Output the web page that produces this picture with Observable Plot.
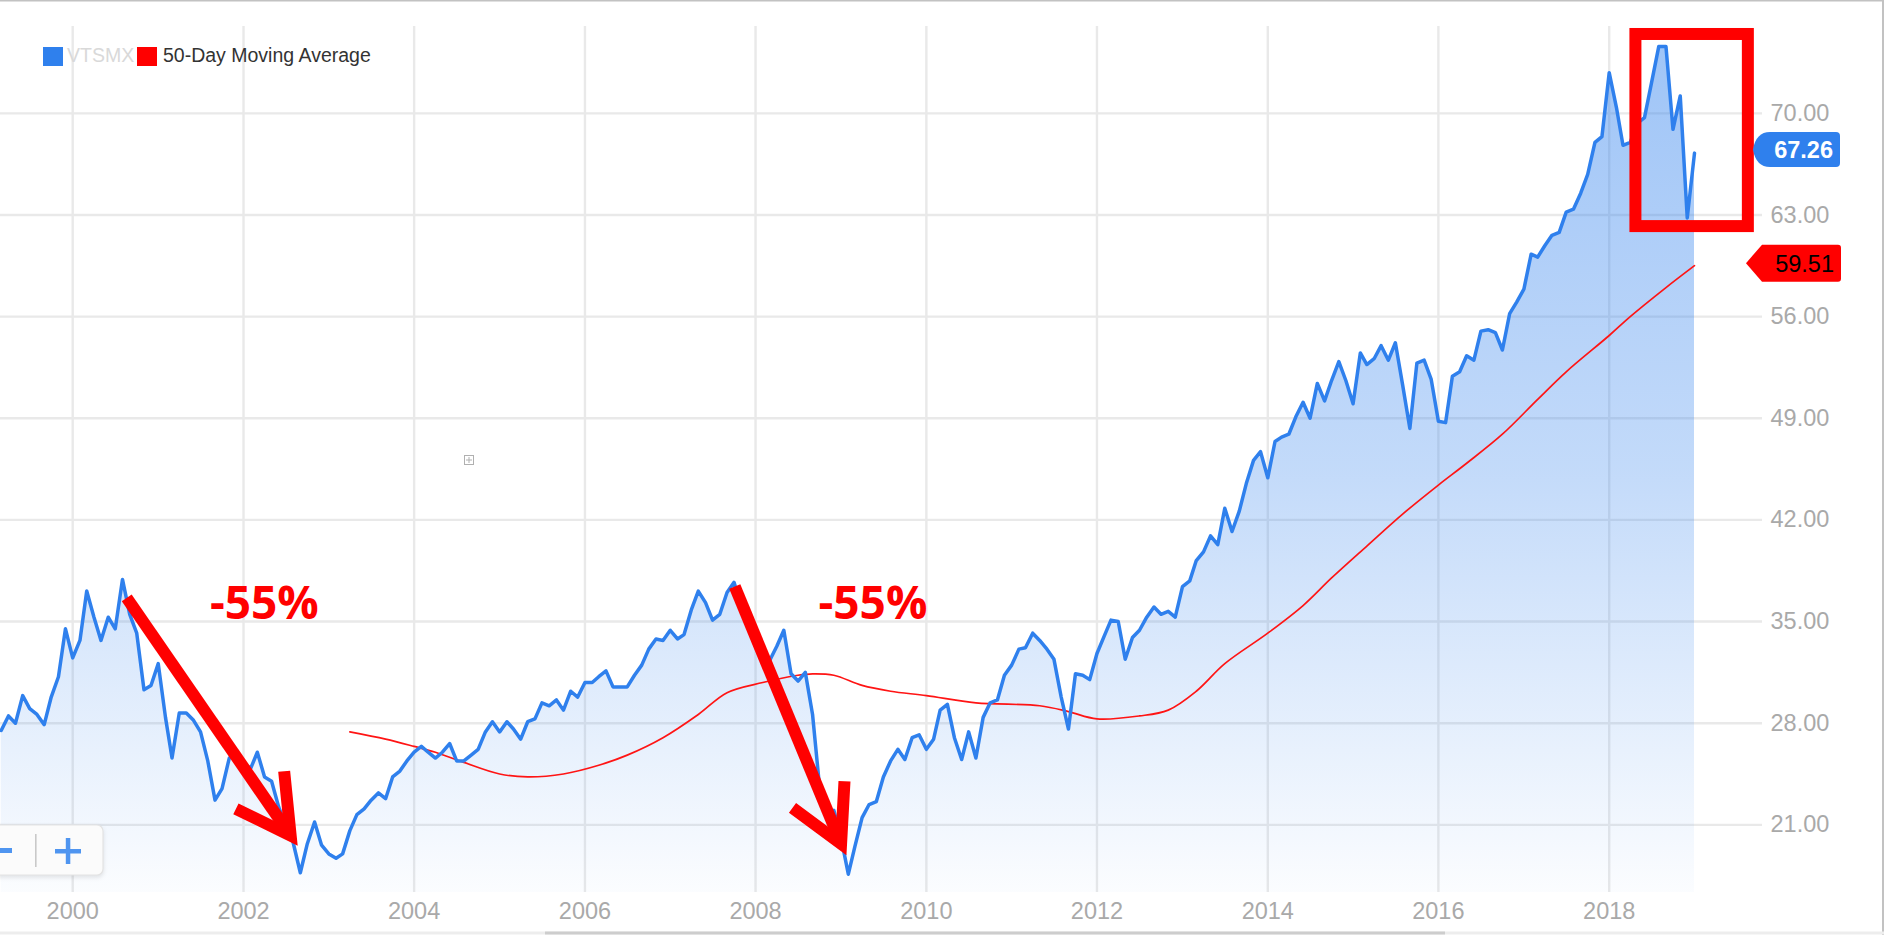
<!DOCTYPE html>
<html>
<head>
<meta charset="utf-8">
<script src="https://cdn.jsdelivr.net/npm/d3@7"></script>
<script src="https://cdn.jsdelivr.net/npm/@observablehq/plot@0.6"></script>
<style>
  html, body { margin: 0; padding: 0; background: #ffffff; }
  #wrap { position: relative; width: 1884px; height: 935px; overflow: hidden; }
</style>
</head>
<body>
<div id="wrap"></div>
<script>
// ---------- DATA ----------
// monthly closing values, first month = March 1999
const firstYear = 1999, firstMonth = 2;
const price = [
  27.5, 28.5, 28.0, 29.9, 29.0, 28.6, 27.9, 29.8, 31.2, 34.5,
  32.5, 33.7, 37.1, 35.3, 33.7, 35.3, 34.5, 37.9, 35.5, 34.2,
  30.3, 30.6, 32.1, 28.4, 25.6, 28.7, 28.7, 28.2, 27.4, 25.4,
  22.7, 23.5, 25.6, 26.0, 25.2, 24.9, 26.0, 24.3, 24.0, 22.2,
  21.0, 19.8, 17.7, 19.7, 21.2, 19.6, 19.0, 18.7, 19.0, 20.6,
  21.7, 22.1, 22.7, 23.2, 22.8, 24.3, 24.7, 25.4, 26.0, 26.4,
  26.0, 25.6, 26.0, 26.6, 25.4, 25.4, 25.8, 26.2, 27.4, 28.1,
  27.4, 28.1, 27.6, 26.9, 28.1, 28.3, 29.4, 29.2, 29.6, 28.9,
  30.2, 29.8, 30.8, 30.8, 31.2, 31.6, 30.5, 30.5, 30.5, 31.3,
  32.0, 33.1, 33.8, 33.7, 34.4, 33.8, 34.1, 35.8, 37.1, 36.3,
  35.1, 35.5, 37.0, 37.7, 36.0, 35.4, 33.3, 32.6, 32.3, 33.3,
  34.4, 31.4, 30.9, 31.5, 28.6, 23.6, 21.6, 22.0, 20.1, 17.6,
  19.5, 21.5, 22.4, 22.6, 24.3, 25.4, 26.2, 25.5, 27.0, 27.2,
  26.2, 26.9, 28.9, 29.3, 27.0, 25.5, 27.4, 25.6, 28.4, 29.4,
  29.6, 31.3, 32.0, 33.1, 33.2, 34.2, 33.7, 33.1, 32.4, 29.8,
  27.6, 31.4, 31.3, 31.0, 32.8, 34.0, 35.1, 35.0, 32.4, 33.9,
  34.4, 35.3, 36.0, 35.5, 35.7, 35.3, 37.4, 37.8, 39.2, 39.8,
  40.9, 40.3, 42.8, 41.2, 42.6, 44.5, 46.1, 46.7, 44.9, 47.4,
  47.7, 47.9, 49.1, 50.1, 49.0, 51.4, 50.2, 51.6, 52.9, 51.6,
  50.0, 53.5, 52.7, 53.1, 54.0, 53.0, 54.2, 51.3, 48.3, 52.8,
  53.0, 51.7, 48.8, 48.7, 51.9, 52.2, 53.3, 53.0, 55.0, 55.1,
  54.9, 53.7, 56.2, 57.0, 57.9, 60.3, 60.1, 60.9, 61.6, 61.8,
  63.2, 63.4, 64.5, 65.8, 68.0, 68.4, 72.8, 70.4, 67.8, 68.0,
  69.3, 69.7, 72.1, 74.6, 74.6, 68.9, 71.2, 62.8, 67.26
];
// moving average read at selected months (month index from March 1999)
const maMonth = [49, 54, 58, 61, 65, 70, 74, 79, 84, 88, 93, 98, 102, 107, 112, 114, 117, 121, 125, 130,
                 137, 146, 150, 154, 160, 164, 168, 172, 178, 183, 187, 192, 197, 202, 206, 211, 216, 220, 226, 229, 234, 238];
const maValue = [27.4, 26.9, 26.4, 26.0, 25.3, 24.5, 24.3, 24.5, 25.1, 25.8, 27.0, 28.6, 30.1, 30.8, 31.3, 31.4, 31.3, 30.6, 30.2, 29.9,
                 29.4, 29.2, 28.8, 28.3, 28.5, 28.9, 30.2, 32.1, 34.2, 36.1, 38.0, 40.2, 42.4, 44.4, 45.9, 47.9, 50.3, 52.2, 54.7, 56.0, 58.0, 59.51];

const seriesNames = ["VTSMX", "50-Day Moving Average"];
const xTickYears = [2000, 2002, 2004, 2006, 2008, 2010, 2012, 2014, 2016, 2018];
const yTicks = [21, 28, 35, 42, 49, 56, 63, 70];
const yDomain = [16.34, 75.98];
const xDomainDates = [[1999, 1, 26], [2019, 9, 19]];
const lastPrice = 67.26;
const lastMA = 59.51;

// annotations (fractional year, value)
const dropLabels = [
  {label: "-55%", year: 2002.244, value: 36.2},
  {label: "-55%", year: 2009.373, value: 36.17}
];
const arrowShafts = [
  {y0: 2000.633, v0: 36.63, y1: 2002.552, v1: 20.26},
  {y0: 2007.756, v0: 37.41, y1: 2009.000, v1: 19.70}
];
const arrowHeads = [
  {id: 1, year: 2001.910, value: 22.10}, {id: 1, year: 2002.552, value: 20.26}, {id: 1, year: 2002.476, value: 24.69},
  {id: 2, year: 2008.433, value: 22.17}, {id: 2, year: 2009.000, value: 19.70}, {id: 2, year: 2009.040, value: 24.00}
];
const highlightBox = {yearStart: 2018.313, yearEnd: 2019.631, low: 62.2, high: 75.43};

// ---------- helpers ----------
const fy = (y) => {
  const base = Math.floor(y);
  return new Date(Date.UTC(base, 0, 1) + (y - base) * 365.25 * 864e5);
};
const priceData = price.map((v, i) => ({date: new Date(Date.UTC(firstYear, firstMonth + i, 1)), value: v}));
const maData = maMonth.map((m, k) => ({date: new Date(Date.UTC(firstYear, firstMonth + m, 1)), value: maValue[k]}));
const xTicks = xTickYears.map(y => new Date(Date.UTC(y, 0, 1)));
const xDomain = xDomainDates.map(d => new Date(Date.UTC(d[0], d[1], d[2])));

const BLUE = "#2f80ed";
const RED = "#ff0000";
const GRID = "#e9e9e9";
const AXIS = "#a9a9a9";

const gradient = () => {
  const defs = d3.create("svg:defs");
  const lg = defs.append("linearGradient").attr("id", "areaGrad")
    .attr("x1", 0).attr("y1", 0).attr("x2", 0).attr("y2", 1);
  lg.append("stop").attr("offset", "0%").attr("stop-color", BLUE).attr("stop-opacity", 0.46);
  lg.append("stop").attr("offset", "50%").attr("stop-color", BLUE).attr("stop-opacity", 0.29);
  lg.append("stop").attr("offset", "100%").attr("stop-color", BLUE).attr("stop-opacity", 0.02);
  return defs.node();
};

const chart = Plot.plot({
  width: 1884,
  height: 935,
  marginTop: 26,
  marginBottom: 43,
  marginLeft: 0,
  marginRight: 122,
  style: {fontFamily: "'Liberation Sans', Arial, sans-serif", background: "#ffffff"},
  x: {type: "utc", domain: xDomain},
  y: {domain: yDomain},
  marks: [
    gradient,
    Plot.gridY(yTicks, {stroke: GRID, strokeOpacity: 1, strokeWidth: 2.4}),
    Plot.gridX(xTicks, {stroke: GRID, strokeOpacity: 1, strokeWidth: 2.4}),
    Plot.areaY(priceData, {x: "date", y1: yDomain[0], y2: "value", fill: "url(#areaGrad)"}),
    Plot.line(maData, {x: "date", y: "value", stroke: "#ff1414", strokeWidth: 1.7, curve: "catmull-rom"}),
    Plot.line(priceData, {x: "date", y: "value", stroke: BLUE, strokeWidth: 3.5, strokeLinejoin: "round"}),
    Plot.link(arrowShafts, {x1: d => fy(d.y0), y1: "v0", x2: d => fy(d.y1), y2: "v1",
      stroke: RED, strokeWidth: 12, strokeLinecap: "butt"}),
    Plot.line(arrowHeads, {x: d => fy(d.year), y: "value", z: "id", stroke: RED, strokeWidth: 12,
      strokeLinecap: "butt", strokeLinejoin: "miter", strokeMiterlimit: 10}),
    Plot.rect([highlightBox], {x1: d => fy(d.yearStart), x2: d => fy(d.yearEnd), y1: "low", y2: "high",
      fill: "none", stroke: RED, strokeWidth: 12}),
    Plot.text(dropLabels, {x: d => fy(d.year), y: "value", text: "label", fill: RED, fontSize: 46,
      fontWeight: 700, fontFamily: "'Open Sans', 'Liberation Sans', sans-serif"}),
    Plot.axisX(xTicks, {anchor: "bottom", tickSize: 0, tickPadding: 10, tickFormat: d3.utcFormat("%Y"),
      fontSize: 23.5, fill: AXIS, label: null}),
    Plot.axisY(yTicks, {anchor: "right", tickSize: 0, tickPadding: 8, tickFormat: d3.format(".2f"),
      fontSize: 23.5, fill: AXIS, label: null})
  ]
});

document.getElementById("wrap").appendChild(chart);

// ---------- value tags, legend, chrome ----------
const svg = d3.select(chart);
const ys = chart.scale("y");
const xr = chart.scale("x").range[1];
const font = "'Liberation Sans', Arial, sans-serif";

// blue price tag
{
  const cy = ys.apply(lastPrice) - 3, h = 17.5;
  const L = xr - 9, B = xr + 8, R = xr + 78;
  svg.append("path")
    .attr("d", `M${L},${cy} Q${L + 3},${cy - h} ${B},${cy - h} H${R - 4} Q${R},${cy - h} ${R},${cy - h + 4} V${cy + h - 4} Q${R},${cy + h} ${R - 4},${cy + h} H${B} Q${L + 3},${cy + h} ${L},${cy} Z`)
    .attr("fill", BLUE);
  svg.append("text").attr("x", R - 7).attr("y", cy + 8.5).attr("text-anchor", "end")
    .attr("font-family", font).attr("font-size", 23.5).attr("font-weight", 700).attr("fill", "#ffffff")
    .text(d3.format(".2f")(lastPrice));
}
// red MA tag
{
  const cy = ys.apply(lastMA) - 2, h = 18.5;
  const L = xr - 16, B = xr, R = xr + 79;
  svg.append("path")
    .attr("d", `M${L},${cy} L${B},${cy - h} H${R - 3} Q${R},${cy - h} ${R},${cy - h + 3} V${cy + h - 3} Q${R},${cy + h} ${R - 3},${cy + h} H${B} Z`)
    .attr("fill", RED);
  svg.append("text").attr("x", R - 7).attr("y", cy + 8.5).attr("text-anchor", "end")
    .attr("font-family", font).attr("font-size", 23.5).attr("fill", "#000000")
    .text(d3.format(".2f")(lastMA));
}

// legend
{
  const g = svg.append("g").attr("font-family", font).attr("font-size", 19.5).attr("text-anchor", "start");
  g.append("rect").attr("x", 43).attr("y", 47).attr("width", 20).attr("height", 19).attr("fill", BLUE);
  g.append("text").attr("x", 67).attr("y", 62).attr("text-anchor", "start").attr("fill", "#d9d9d9").text(seriesNames[0]);
  g.append("rect").attr("x", 137).attr("y", 47).attr("width", 20).attr("height", 19).attr("fill", RED);
  g.append("text").attr("x", 163).attr("y", 62).attr("text-anchor", "start").attr("fill", "#333333").text(seriesNames[1]);
}

// small crosshair icon
{
  const g = svg.append("g").attr("stroke", "#b0b0b0").attr("stroke-width", 1).attr("fill", "none");
  g.append("rect").attr("x", 464.5).attr("y", 455.5).attr("width", 9).attr("height", 9);
  g.append("path").attr("d", "M469,457 V463 M466,460 H472");
}

// zoom control
{
  const g = svg.append("g");
  g.append("rect").attr("x", -12).attr("y", 825).attr("width", 115).attr("height", 50).attr("rx", 6)
    .attr("fill", "#fbfbfb").attr("stroke", "#e3e3e3").attr("stroke-width", 1.2)
    .style("filter", "drop-shadow(0px 2px 2px rgba(0,0,0,0.10))");
  g.append("rect").attr("x", -2).attr("y", 848).attr("width", 14).attr("height", 5).attr("fill", "#4f95f0");
  g.append("rect").attr("x", 35).attr("y", 834).attr("width", 1.6).attr("height", 33).attr("fill", "#c9c9c9");
  g.append("rect").attr("x", 55).attr("y", 849).attr("width", 26).attr("height", 4.5).attr("fill", "#4f95f0");
  g.append("rect").attr("x", 65.8).attr("y", 838).attr("width", 4.5).attr("height", 26).attr("fill", "#4f95f0");
}

// frame chrome
{
  svg.append("rect").attr("x", 0).attr("y", 0).attr("width", 1884).attr("height", 1.5).attr("fill", "#c2c2c2");
  svg.append("rect").attr("x", 1882).attr("y", 0).attr("width", 2).attr("height", 935).attr("fill", "#c2c2c2");
  svg.append("rect").attr("x", 0).attr("y", 931.5).attr("width", 1884).attr("height", 3).attr("fill", "#ededed");
  svg.append("rect").attr("x", 545).attr("y", 931.5).attr("width", 900).attr("height", 3).attr("fill", "#cdcdcd");
}
</script>
</body>
</html>
